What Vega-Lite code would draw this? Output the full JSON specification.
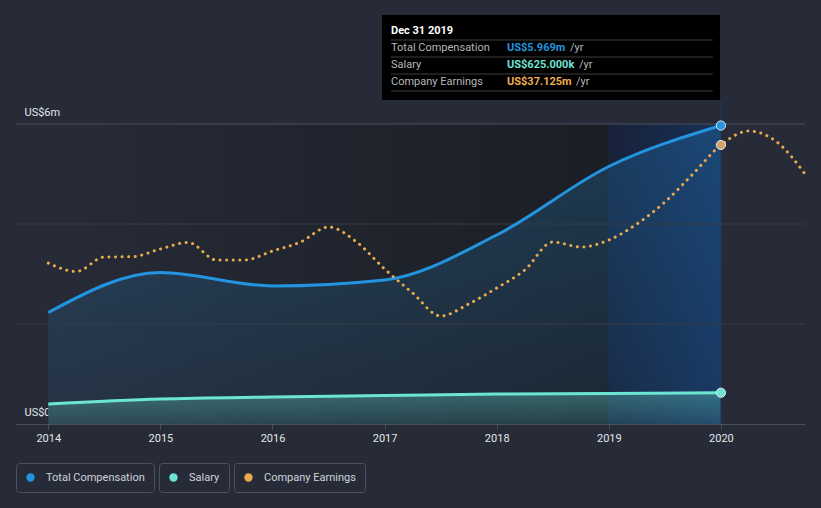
{
  "$schema": "https://vega.github.io/schema/vega-lite/v6.json",
  "width": 789,
  "height": 424,
  "autosize": {"type": "none"},
  "padding": {"left": 16, "top": 0, "right": 16, "bottom": 84},
  "background": "#262b37",
  "config": {
    "view": {"stroke": null},
    "font": "Roboto",
    "legend": {
      "orient": "bottom",
      "direction": "horizontal",
      "padding": 9,
      "strokeColor": "#4b515d",
      "cornerRadius": 3,
      "fillColor": "#262b37",
      "labelColor": "#d0d4da",
      "labelFont": "Roboto",
      "labelFontSize": 11,
      "symbolType": "circle",
      "symbolSize": 70,
      "symbolStrokeWidth": 0,
      "labelOffset": 10,
      "offset": 20,
      "layout": {"bottom": {"anchor": "start", "direction": "horizontal", "margin": 5}}
    }
  },
  "datasets": {
    "comp": [
      {"year": 2014, "total": 2230000, "salary": 400000},
      {"year": 2015, "total": 3030000, "salary": 500000},
      {"year": 2016, "total": 2760000, "salary": 540000},
      {"year": 2017, "total": 2880000, "salary": 570000},
      {"year": 2018, "total": 3780000, "salary": 600000},
      {"year": 2019, "total": 5150000, "salary": 610000},
      {"year": 2020, "total": 5969000, "salary": 625000}
    ],
    "earn": [
      {"year": 2014.0, "earnings": 21420000},
      {"year": 2014.25, "earnings": 20290000},
      {"year": 2014.5, "earnings": 22220000},
      {"year": 2014.75, "earnings": 22260000},
      {"year": 2015.0, "earnings": 23290000},
      {"year": 2015.25, "earnings": 24150000},
      {"year": 2015.5, "earnings": 21820000},
      {"year": 2015.75, "earnings": 21820000},
      {"year": 2016.0, "earnings": 23020000},
      {"year": 2016.25, "earnings": 24220000},
      {"year": 2016.5, "earnings": 26210000},
      {"year": 2016.75, "earnings": 24220000},
      {"year": 2017.0, "earnings": 20630000},
      {"year": 2017.25, "earnings": 17430000},
      {"year": 2017.5, "earnings": 14370000},
      {"year": 2017.75, "earnings": 15970000},
      {"year": 2018.0, "earnings": 18100000},
      {"year": 2018.25, "earnings": 20490000},
      {"year": 2018.5, "earnings": 24220000},
      {"year": 2018.75, "earnings": 23550000},
      {"year": 2019.0, "earnings": 24480000},
      {"year": 2019.25, "earnings": 26610000},
      {"year": 2019.5, "earnings": 29540000},
      {"year": 2019.75, "earnings": 33270000},
      {"year": 2020.0, "earnings": 37125000},
      {"year": 2020.25, "earnings": 38990000},
      {"year": 2020.5, "earnings": 37520000},
      {"year": 2020.75, "earnings": 33270000}
    ],
    "tip": [
      {"row": "Dec 31 2019", "value": ""},
      {"row": "Total Compensation", "value": "US$5.969m"},
      {"row": "Salary", "value": "US$625.000k"},
      {"row": "Company Earnings", "value": "US$37.125m"}
    ]
  },
  "layer": [
    {
      "data": {"name": "comp"},
      "mark": {"type": "area", "interpolate": "monotone", "fill": "#262b37", "opacity": 0},
      "encoding": {
        "x": {"field": "year", "type": "quantitative", "title": null, "scale": {"domain": [2013.712, 2020.75], "nice": false, "zero": false},
          "axis": {"orient": "bottom", "title": null, "values": [2014, 2015, 2016, 2017, 2018, 2019, 2020], "format": "d", "grid": false, "domain": true, "domainColor": "#4b515c", "ticks": true, "tickColor": "#4b515c", "tickSize": 5, "labelPadding": 3, "labelFlush": false, "labelFont": "Roboto", "labelFontSize": 11, "labelColor": "#e4e6ea"}},
        "y": {"field": "total", "type": "quantitative", "title": null, "scale": {"domain": [0, 8480000], "nice": false},
          "axis": {"orient": "left", "title": null, "values": [0, 6000000], "grid": false, "domain": false, "ticks": false, "tickSize": 0, "labelAlign": "left", "labelPadding": -8, "labelBaseline": "middle", "labelOffset": -12, "labelFlush": false, "labelFont": "Roboto", "labelFontSize": 11, "labelColor": "#e4e6ea", "labelExpr": "datum.value == 6000000 ? 'US$6m' : 'US$0'"}}
      }
    },
    {
      "data": {"values": [{}]},
      "mark": {"type": "rect", "fill": {"gradient": "linear", "x1": 0, "y1": 0, "x2": 1, "y2": 0, "stops": [{"offset": 0, "color": "#262b37"}, {"offset": 1, "color": "#1b1e25"}]}},
      "encoding": {
        "x": {"datum": 2014, "type": "quantitative", "title": null, "scale": {"domain": [2013.712, 2020.75], "nice": false, "zero": false}},
        "x2": {"datum": 2019},
        "y": {"datum": 0, "type": "quantitative", "scale": {"domain": [0, 8480000], "nice": false}, "axis": null},
        "y2": {"datum": 6000000}
      }
    },
    {
      "data": {"values": [{}]},
      "mark": {"type": "rect", "fill": {"gradient": "linear", "x1": 0, "y1": 0, "x2": 1, "y2": 0, "stops": [{"offset": 0, "color": "#18223a"}, {"offset": 1, "color": "#183056"}]}},
      "encoding": {
        "x": {"datum": 2019, "type": "quantitative", "title": null, "scale": {"domain": [2013.712, 2020.75], "nice": false, "zero": false}},
        "x2": {"datum": 2020},
        "y": {"datum": 0, "type": "quantitative", "scale": {"domain": [0, 8480000], "nice": false}, "axis": null},
        "y2": {"datum": 6000000}
      }
    },
    {
      "data": {"name": "comp"},
      "mark": {"type": "area", "interpolate": "monotone", "fill": {"gradient": "linear", "x1": 0, "y1": 0, "x2": 0, "y2": 1, "stops": [{"offset": 0, "color": "rgba(35,148,223,0.24)"}, {"offset": 1, "color": "rgba(35,148,223,0.08)"}]}},
      "encoding": {
        "x": {"field": "year", "type": "quantitative", "title": null, "scale": {"domain": [2013.712, 2020.75], "nice": false, "zero": false}},
        "y": {"field": "total", "type": "quantitative", "scale": {"domain": [0, 8480000], "nice": false}, "axis": null}
      }
    },
    {
      "data": {"name": "comp"},
      "mark": {"type": "area", "interpolate": "monotone", "fill": {"gradient": "linear", "x1": 0, "y1": 0, "x2": 0, "y2": 1, "stops": [{"offset": 0, "color": "rgba(108,230,210,0.32)"}, {"offset": 1, "color": "rgba(108,230,210,0.12)"}]}},
      "encoding": {
        "x": {"field": "year", "type": "quantitative", "title": null, "scale": {"domain": [2013.712, 2020.75], "nice": false, "zero": false}},
        "y": {"field": "salary", "type": "quantitative", "scale": {"domain": [0, 8480000], "nice": false}, "axis": null}
      }
    },
    {
      "data": {"values": [{}]},
      "mark": {"type": "rule", "color": "#363c47", "strokeWidth": 1},
      "encoding": {
        "x": {"datum": 2013.712, "type": "quantitative", "title": null, "scale": {"domain": [2013.712, 2020.75], "nice": false, "zero": false}},
        "x2": {"datum": 2020.75},
        "y": {"datum": 2000000, "type": "quantitative", "scale": {"domain": [0, 8480000], "nice": false}, "axis": null}
      }
    },
    {
      "data": {"values": [{}]},
      "mark": {"type": "rule", "color": "#363c47", "strokeWidth": 1},
      "encoding": {
        "x": {"datum": 2013.712, "type": "quantitative", "title": null, "scale": {"domain": [2013.712, 2020.75], "nice": false, "zero": false}},
        "x2": {"datum": 2020.75},
        "y": {"datum": 4000000, "type": "quantitative", "scale": {"domain": [0, 8480000], "nice": false}, "axis": null}
      }
    },
    {
      "data": {"values": [{}]},
      "mark": {"type": "rule", "color": "#4b515c", "strokeWidth": 1},
      "encoding": {
        "x": {"datum": 2013.712, "type": "quantitative", "title": null, "scale": {"domain": [2013.712, 2020.75], "nice": false, "zero": false}},
        "x2": {"datum": 2020.75},
        "y": {"datum": 6000000, "type": "quantitative", "scale": {"domain": [0, 8480000], "nice": false}, "axis": null}
      }
    },
    {
      "data": {"values": [{}]},
      "mark": {"type": "rule", "color": "#1f3b5e", "strokeWidth": 1},
      "encoding": {
        "x": {"datum": 2020, "type": "quantitative", "title": null, "scale": {"domain": [2013.712, 2020.75], "nice": false, "zero": false}},
        "y": {"datum": 6480000, "type": "quantitative", "scale": {"domain": [0, 8480000], "nice": false}, "axis": null},
        "y2": {"datum": 0}
      }
    },
    {
      "data": {"name": "comp"},
      "mark": {"type": "line", "interpolate": "monotone", "strokeWidth": 3},
      "encoding": {
        "x": {"field": "year", "type": "quantitative", "title": null, "scale": {"domain": [2013.712, 2020.75], "nice": false, "zero": false}},
        "y": {"field": "total", "type": "quantitative", "scale": {"domain": [0, 8480000], "nice": false}, "axis": null},
        "color": {"datum": "Total Compensation", "type": "nominal", "scale": {"domain": ["Total Compensation"], "range": ["#2394df"]}, "legend": {"title": null, "symbolFillColor": "#2394df", "symbolStrokeWidth": 0}}
      }
    },
    {
      "data": {"name": "comp"},
      "mark": {"type": "line", "interpolate": "monotone", "strokeWidth": 3},
      "encoding": {
        "x": {"field": "year", "type": "quantitative", "title": null, "scale": {"domain": [2013.712, 2020.75], "nice": false, "zero": false}},
        "y": {"field": "salary", "type": "quantitative", "scale": {"domain": [0, 8480000], "nice": false}, "axis": null},
        "color": {"datum": "Salary", "type": "nominal", "scale": {"domain": ["Salary"], "range": ["#6ce6d2"]}, "legend": {"title": null, "symbolFillColor": "#6ce6d2", "symbolStrokeWidth": 0}}
      }
    },
    {
      "data": {"name": "earn"},
      "mark": {"type": "line", "interpolate": "monotone", "strokeWidth": 3, "strokeDash": [0.1, 6.5], "strokeCap": "round"},
      "encoding": {
        "x": {"field": "year", "type": "quantitative", "title": null, "scale": {"domain": [2013.712, 2020.75], "nice": false, "zero": false}},
        "y": {"field": "earnings", "type": "quantitative", "scale": {"domain": [0, 56420000], "nice": false}, "axis": null},
        "color": {"datum": "Company Earnings", "type": "nominal", "scale": {"domain": ["Company Earnings"], "range": ["#e9aa4d"]}, "legend": {"title": null, "symbolFillColor": "#e9aa4d", "symbolStrokeWidth": 0}}
      }
    },
    {
      "data": {"name": "comp"},
      "transform": [{"filter": "datum.year === 2020"}],
      "mark": {"type": "point", "shape": "circle", "filled": true, "size": 85, "fill": "#2394df", "stroke": "#e3e8ef", "strokeWidth": 1, "opacity": 1},
      "encoding": {
        "x": {"field": "year", "type": "quantitative", "title": null, "scale": {"domain": [2013.712, 2020.75], "nice": false, "zero": false}},
        "y": {"field": "total", "type": "quantitative", "scale": {"domain": [0, 8480000], "nice": false}, "axis": null}
      }
    },
    {
      "data": {"name": "comp"},
      "transform": [{"filter": "datum.year === 2020"}],
      "mark": {"type": "point", "shape": "circle", "filled": true, "size": 85, "fill": "#6ce6d2", "stroke": "#e3e8ef", "strokeWidth": 1, "opacity": 1},
      "encoding": {
        "x": {"field": "year", "type": "quantitative", "title": null, "scale": {"domain": [2013.712, 2020.75], "nice": false, "zero": false}},
        "y": {"field": "salary", "type": "quantitative", "scale": {"domain": [0, 8480000], "nice": false}, "axis": null}
      }
    },
    {
      "data": {"name": "earn"},
      "transform": [{"filter": "datum.year === 2020"}],
      "mark": {"type": "point", "shape": "circle", "filled": true, "size": 85, "fill": "#d2a46c", "stroke": "#e3e8ef", "strokeWidth": 1, "opacity": 1},
      "encoding": {
        "x": {"field": "year", "type": "quantitative", "title": null, "scale": {"domain": [2013.712, 2020.75], "nice": false, "zero": false}},
        "y": {"field": "earnings", "type": "quantitative", "scale": {"domain": [0, 56420000], "nice": false}, "axis": null}
      }
    },
    {
      "data": {"values": [{}]},
      "mark": {"type": "rect", "fill": "#000000"},
      "encoding": {
        "x": {"datum": 2016.977, "type": "quantitative", "title": null, "scale": {"domain": [2013.712, 2020.75], "nice": false, "zero": false}},
        "x2": {"datum": 2019.992},
        "y": {"datum": 8180000, "type": "quantitative", "scale": {"domain": [0, 8480000], "nice": false}, "axis": null},
        "y2": {"datum": 6480000}
      }
    },
    {
      "data": {"name": "tip"},
      "mark": {"type": "rule", "color": "#3d3d3d", "strokeWidth": 1},
      "encoding": {
        "x": {"datum": 2017.057, "type": "quantitative", "title": null, "scale": {"domain": [2013.712, 2020.75], "nice": false, "zero": false}},
        "x2": {"datum": 2019.928},
        "y": {"field": "row", "type": "nominal", "scale": {"type": "point", "domain": ["Dec 31 2019", "Total Compensation", "Salary", "Company Earnings"], "range": [40, 91], "padding": 0}, "axis": null}
      }
    },
    {
      "data": {"name": "tip"},
      "transform": [{"filter": "datum.row === 'Dec 31 2019'"}],
      "mark": {"type": "text", "align": "left", "baseline": "middle", "dy": -9, "font": "Roboto", "fontSize": 11, "fontWeight": "bold", "color": "#ffffff"},
      "encoding": {
        "x": {"datum": 2017.057, "type": "quantitative", "title": null, "scale": {"domain": [2013.712, 2020.75], "nice": false, "zero": false}},
        "y": {"field": "row", "type": "nominal", "scale": {"type": "point", "domain": ["Dec 31 2019", "Total Compensation", "Salary", "Company Earnings"], "range": [40, 91], "padding": 0}, "axis": null},
        "text": {"field": "row"}
      }
    },
    {
      "data": {"name": "tip"},
      "transform": [{"filter": "datum.row !== 'Dec 31 2019'"}],
      "mark": {"type": "text", "align": "left", "baseline": "middle", "dy": -9, "font": "Roboto", "fontSize": 11, "color": "#b4b7bd"},
      "encoding": {
        "x": {"datum": 2017.057, "type": "quantitative", "title": null, "scale": {"domain": [2013.712, 2020.75], "nice": false, "zero": false}},
        "y": {"field": "row", "type": "nominal", "scale": {"type": "point", "domain": ["Dec 31 2019", "Total Compensation", "Salary", "Company Earnings"], "range": [40, 91], "padding": 0}, "axis": null},
        "text": {"field": "row"}
      }
    },
    {
      "data": {"name": "tip"},
      "transform": [{"filter": "datum.row !== 'Dec 31 2019'"}],
      "mark": {"type": "text", "align": "left", "baseline": "middle", "dy": -9, "font": "Roboto", "fontSize": 11, "fontWeight": "bold"},
      "encoding": {
        "x": {"datum": 2018.092, "type": "quantitative", "title": null, "scale": {"domain": [2013.712, 2020.75], "nice": false, "zero": false}},
        "y": {"field": "row", "type": "nominal", "scale": {"type": "point", "domain": ["Dec 31 2019", "Total Compensation", "Salary", "Company Earnings"], "range": [40, 91], "padding": 0}, "axis": null},
        "text": {"field": "value"},
        "color": {"condition": [{"test": "datum.row === 'Total Compensation'", "value": "#2394df"}, {"test": "datum.row === 'Salary'", "value": "#6fe3d3"}], "value": "#eeae4f"}
      }
    },
    {
      "data": {"name": "tip"},
      "transform": [{"filter": "datum.row === 'Total Compensation'"}],
      "mark": {"type": "text", "align": "left", "baseline": "middle", "dy": -9, "font": "Roboto", "fontSize": 11, "color": "#b4b7bd", "text": "/yr"},
      "encoding": {
        "x": {"datum": 2018.654, "type": "quantitative", "title": null, "scale": {"domain": [2013.712, 2020.75], "nice": false, "zero": false}},
        "y": {"field": "row", "type": "nominal", "scale": {"type": "point", "domain": ["Dec 31 2019", "Total Compensation", "Salary", "Company Earnings"], "range": [40, 91], "padding": 0}, "axis": null}
      }
    },
    {
      "data": {"name": "tip"},
      "transform": [{"filter": "datum.row === 'Salary'"}],
      "mark": {"type": "text", "align": "left", "baseline": "middle", "dy": -9, "font": "Roboto", "fontSize": 11, "color": "#b4b7bd", "text": "/yr"},
      "encoding": {
        "x": {"datum": 2018.734, "type": "quantitative", "title": null, "scale": {"domain": [2013.712, 2020.75], "nice": false, "zero": false}},
        "y": {"field": "row", "type": "nominal", "scale": {"type": "point", "domain": ["Dec 31 2019", "Total Compensation", "Salary", "Company Earnings"], "range": [40, 91], "padding": 0}, "axis": null}
      }
    },
    {
      "data": {"name": "tip"},
      "transform": [{"filter": "datum.row === 'Company Earnings'"}],
      "mark": {"type": "text", "align": "left", "baseline": "middle", "dy": -9, "font": "Roboto", "fontSize": 11, "color": "#b4b7bd", "text": "/yr"},
      "encoding": {
        "x": {"datum": 2018.707, "type": "quantitative", "title": null, "scale": {"domain": [2013.712, 2020.75], "nice": false, "zero": false}},
        "y": {"field": "row", "type": "nominal", "scale": {"type": "point", "domain": ["Dec 31 2019", "Total Compensation", "Salary", "Company Earnings"], "range": [40, 91], "padding": 0}, "axis": null}
      }
    }
  ],
  "resolve": {"scale": {"y": "independent", "color": "independent"}, "legend": {"color": "independent"}}
}
